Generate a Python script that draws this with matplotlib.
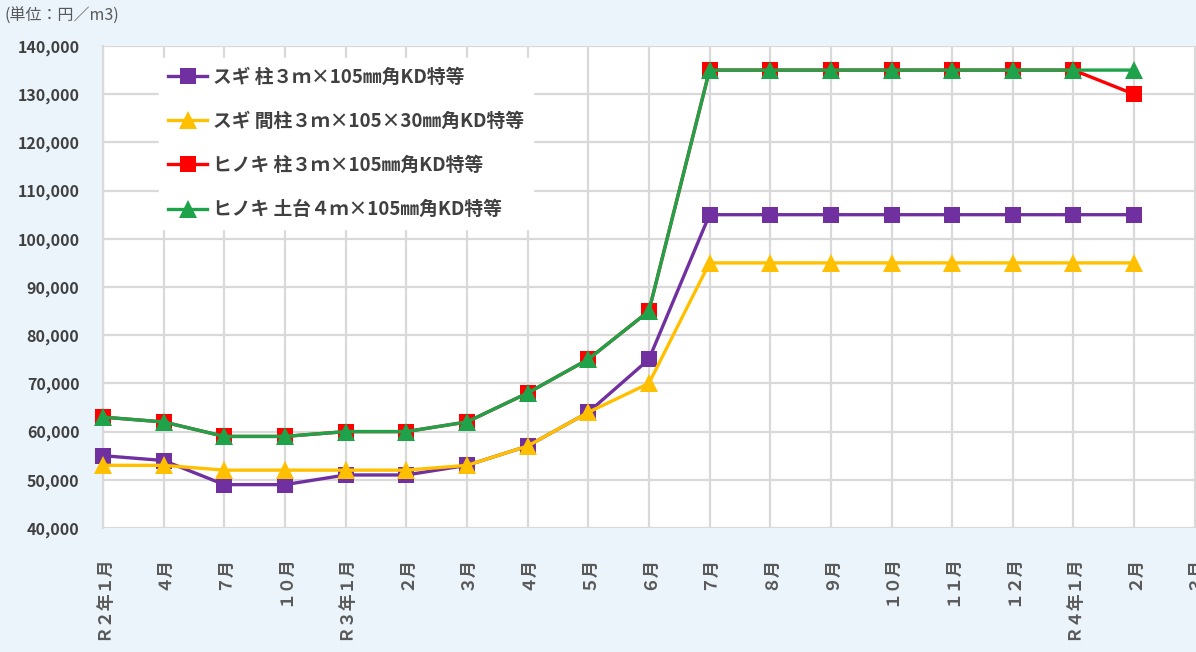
import matplotlib
matplotlib.use("Agg")
import matplotlib.pyplot as plt
from matplotlib.ticker import FuncFormatter

plt.rcParams['font.family'] = ['Noto Sans CJK JP', 'DejaVu Sans']

# --- data -------------------------------------------------------------
months = ["Ｒ２年１月", "４月", "７月", "１０月", "Ｒ３年１月", "２月", "３月", "４月",
          "５月", "６月", "７月", "８月", "９月", "１０月", "１１月", "１２月",
          "Ｒ４年１月", "２月", "３月"]

sugi_hashira = [55000, 54000, 49000, 49000, 51000, 51000, 53000, 57000, 64000,
                75000, 105000, 105000, 105000, 105000, 105000, 105000, 105000, 105000]
sugi_mabashira = [53000, 53000, 52000, 52000, 52000, 52000, 53000, 57000, 64000,
                  70000, 95000, 95000, 95000, 95000, 95000, 95000, 95000, 95000]
hinoki_hashira = [63000, 62000, 59000, 59000, 60000, 60000, 62000, 68000, 75000,
                  85000, 135000, 135000, 135000, 135000, 135000, 135000, 135000, 130000]
hinoki_dodai = [63000, 62000, 59000, 59000, 60000, 60000, 62000, 68000, 75000,
                85000, 135000, 135000, 135000, 135000, 135000, 135000, 135000, 135000]

series_labels = ["スギ 柱３ｍ×105㎜角KD特等",
                 "スギ 間柱３ｍ×105×30㎜角KD特等",
                 "ヒノキ 柱３ｍ×105㎜角KD特等",
                 "ヒノキ 土台４ｍ×105㎜角KD特等"]

# --- style ------------------------------------------------------------
BG = "#EBF3FB"
GRID = "#D9D9D9"
TEXT = "#404040"
COLORS = ["#7030A0", "#FFC000", "#FF0000", "#1FA34A"]
MARKERS = ["s", "^", "s", "^"]

fig = plt.figure(figsize=(11.96, 6.52), dpi=100, facecolor=BG)
ax = fig.add_axes([103 / 1196, 1 - 528 / 652, 1 - 103 / 1196, (528 - 46) / 652])
ax.set_facecolor("white")

x = list(range(len(sugi_hashira)))
for vals, label, color, marker in zip(
        [sugi_hashira, sugi_mabashira, hinoki_hashira, hinoki_dodai],
        series_labels, COLORS, MARKERS):
    ax.plot(x, vals, color=color, linewidth=2.4, marker=marker,
            markersize=11.5 if marker == "s" else 12.5, markeredgewidth=0,
            label=label, zorder=3, clip_on=False)

ax.set_xlim(0, len(months) - 1 + 0.02)
ax.set_ylim(40000, 140000)
ax.set_xticks(range(len(months)))
ax.set_xticklabels(months, rotation=90, va="top", ha="center",
                   fontsize=12.2, color="#595959", fontweight="bold")
ax.set_yticks(range(40000, 140001, 10000))
ax.yaxis.set_major_formatter(FuncFormatter(lambda v, p: f"{int(v):,}"))
for lbl in ax.get_yticklabels():
    lbl.set_fontsize(11.5)
    lbl.set_fontweight("bold")
    lbl.set_color(TEXT)
ax.tick_params(axis="both", length=0)
ax.tick_params(axis="x", pad=20)
ax.tick_params(axis="y", pad=17)

ax.grid(True, color=GRID, linewidth=1.6, zorder=0)
ax.set_axisbelow(True)
for side in ["top", "right", "left", "bottom"]:
    ax.spines[side].set_visible(False)
ax.spines["left"].set_visible(True)
ax.spines["left"].set_color(GRID)
ax.spines["left"].set_linewidth(1.6)

leg = ax.legend(loc="upper left", bbox_to_anchor=(0.051, 0.975),
                fontsize=13.5, frameon=True, fancybox=False, framealpha=1,
                edgecolor="white", facecolor="white", handlelength=2.1,
                handletextpad=0.3, labelspacing=1.35, borderpad=0.5,
                borderaxespad=0)
for t in leg.get_texts():
    t.set_color(TEXT)
    t.set_fontweight("bold")
leg.set_zorder(5)

fig.text(5 / 1196, 1 - 16 / 652, "(単位：円／m3)", fontsize=11.5, color="#595959",
         va="center", ha="left")

fig.savefig("out.png", dpi=100, facecolor=BG)
